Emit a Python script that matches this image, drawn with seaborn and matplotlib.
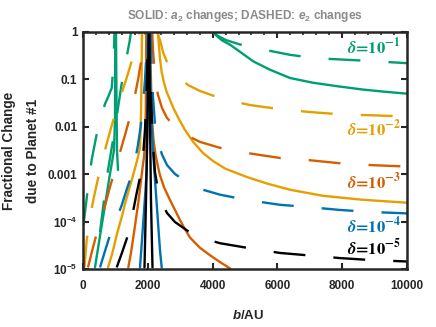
import pandas as pd
import matplotlib
matplotlib.use('Agg')
import matplotlib.pyplot as plt
import seaborn as sns
from matplotlib.ticker import FixedLocator, MultipleLocator, NullLocator

# values: b in AU, fractional change
# delta = 1e-1 (green)
g_a2_left_b = [370, 525, 679, 802, 895, 957, 988, 997]
g_a2_left_y = [1.08e-5, 5.0e-5, 2.2e-4, 7.6e-4, 1.8e-3, 3.2e-3, 0.0139, 1.0]
g_a2_mid_b = [1018, 1034, 1049, 1080]
g_a2_mid_y = [1.0, 0.037, 0.0032, 0.00123]
g_a2_right_b = [4000, 4150, 4300, 4537, 4900, 5256, 5772, 6389, 7099, 7900, 8642, 9300, 10000]
g_a2_right_y = [1.0, 0.8, 0.66, 0.54, 0.36, 0.24, 0.16, 0.107, 0.085, 0.071, 0.061, 0.055, 0.050]
g_e2_left1_b = [15, 114, 185, 268, 370, 463, 571, 679, 787, 886, 941, 972]
g_e2_left1_y = [8.5e-5, 3.1e-4, 8.4e-4, 2.0e-3, 4.6e-3, 9.4e-3, 0.0177, 0.0304, 0.0445, 0.066, 0.2, 1.0]
g_e2_left2_b = [525, 648, 772, 886, 988, 1080, 1173, 1265, 1358, 1435, 1481]
g_e2_left2_y = [6.0e-5, 2.86e-4, 1.23e-3, 3.6e-3, 9.4e-3, 0.0249, 0.066, 0.158, 0.327, 0.615, 1.0]
g_e2_right_b = [4012, 4150, 4400, 4650, 4907, 5300, 5772, 6389, 7000, 7623, 8611, 10000]
g_e2_right_y = [1.0, 0.84, 0.68, 0.6, 0.53, 0.46, 0.40, 0.33, 0.29, 0.27, 0.25, 0.22]

# delta = 1e-2 (orange)
o_a2_left_b = [772, 895, 1049, 1194, 1327, 1450, 1574, 1666, 1759, 1790, 1808, 1821]
o_a2_left_y = [1.08e-5, 2.04e-5, 5.5e-5, 1.24e-4, 2.86e-4, 5.6e-4, 1.12e-3, 1.9e-3, 3.6e-3, 0.0177, 0.124, 1.0]
o_a2_right_b = [2315, 2345, 2380, 2430, 2500, 2580, 2685, 2800, 2950, 3148, 3400, 3704,
                4012, 4400, 5062, 5700, 6389, 7407, 8600, 10000]
o_a2_right_y = [1.0, 0.5, 0.26, 0.14, 0.085, 0.055, 0.037, 0.024, 0.015, 0.0086, 0.0048, 0.0028,
                0.0019, 0.0013, 0.00087, 0.00063, 0.00047, 0.00035, 0.00029, 0.00025]
o_e2_left_b = [46, 114, 216, 318, 432, 577, 710, 864, 1018, 1173, 1327, 1450, 1574, 1666, 1744]
o_e2_left_y = [1.08e-5, 4.1e-5, 1.2e-4, 2.86e-4, 6.5e-4, 1.73e-3, 3.9e-3, 9.4e-3, 0.0216,
               0.047, 0.097, 0.183, 0.36, 0.615, 1.0]
o_e2_right_b = [2284, 2376, 2469, 2592, 2685, 2839, 3241, 3611, 4290, 5154, 6142, 7006, 7994, 8920, 10000]
o_e2_right_y = [1.0, 0.68, 0.378, 0.233, 0.192, 0.130, 0.076, 0.057, 0.039, 0.0288, 0.0232,
                0.0205, 0.0182, 0.0175, 0.0165]

# delta = 1e-3 (dark orange)
d_a2_left_b = [1398, 1481, 1574, 1651, 1707, 1774, 1836, 1882, 1913, 1938, 1953]
d_a2_left_y = [1.08e-5, 2.2e-5, 5.8e-5, 1.37e-4, 2.5e-4, 5.9e-4, 1.35e-3, 2.3e-3, 4.1e-3, 0.0226, 1.0]
d_a2_right_b = [2068, 2083, 2105, 2130, 2176, 2237, 2315, 2376, 2500, 2685, 2839, 2994, 3148,
                3302, 3611, 3920, 4228, 4537]
d_a2_right_y = [1.0, 0.257, 0.060, 0.0139, 0.0053, 0.0026, 0.00143, 0.00095, 0.00053, 0.000286,
                0.000176, 0.000108, 6.9e-5, 4.6e-5, 2.8e-5, 1.95e-5, 1.4e-5, 1.03e-5]
d_e2_left_b = [154, 247, 370, 463, 577, 710, 833, 988, 1142, 1296, 1450, 1574, 1697, 1790, 1867, 1929]
d_e2_left_y = [1.08e-5, 1.95e-5, 4.1e-5, 7.0e-5, 1.2e-4, 2.6e-4, 5.4e-4, 1.23e-3, 2.9e-3, 6.7e-3,
               0.0161, 0.037, 0.097, 0.233, 0.532, 1.0]
d_e2_right_b = [2136, 2160, 2222, 2315, 2438, 2592, 2839, 3241, 3611, 4228, 5061, 6080, 6913,
                7931, 8857, 10000]
d_e2_right_y = [1.0, 0.417, 0.112, 0.047, 0.025, 0.0154, 0.0099, 0.0064, 0.0048, 0.0036, 0.0028,
                0.0022, 0.0020, 0.0017, 0.00156, 0.00145]

# delta = 1e-4 (blue)
u_a2_left_b = [1759, 1821, 1882, 1929, 1966, 1984, 2000]
u_a2_left_y = [1.08e-5, 4.1e-5, 1.6e-4, 4.7e-4, 1.23e-3, 0.0139, 1.0]
u_a2_right_b = [2052, 2083, 2130, 2160, 2222, 2299, 2376, 2429]
u_a2_right_y = [1.0, 0.060, 0.0086, 0.0032, 7.6e-4, 1.37e-4, 2.5e-5, 1.08e-5]
u_e2_left_b = [525, 679, 833, 1018, 1194, 1327, 1450, 1574, 1682, 1774, 1851, 1913, 1959, 1990]
u_e2_left_y = [1.08e-5, 2.4e-5, 5.2e-5, 1.08e-4, 2.2e-4, 4.3e-4, 7.6e-4, 1.56e-3, 3.6e-3,
               9.4e-3, 0.029, 0.097, 0.327, 1.0]
u_e2_right_b = [2083, 2114, 2160, 2222, 2315, 2438, 2592, 2839, 3241, 3611, 4228, 5061, 6080,
                6913, 7931, 8857, 10000]
u_e2_right_y = [1.0, 0.233, 0.0425, 0.0115, 0.0048, 0.0026, 0.00156, 0.00101, 0.00065, 0.00049,
                0.00037, 0.000286, 0.000226, 0.000204, 0.000176, 0.00016, 0.000149]

# delta = 1e-5 (black)
k_a2_left_b = [1898, 1944, 1981, 2012, 2027]
k_a2_left_y = [1.08e-5, 2.86e-4, 5.3e-3, 0.097, 1.0]
k_a2_right_b = [2043, 2068, 2098, 2145]
k_a2_right_y = [1.0, 0.0139, 2.86e-4, 1.08e-5]
k_e2_left_b = [1040, 1203, 1389, 1543, 1657, 1744, 1811, 1867, 1913, 1950, 1981, 2006]
k_e2_left_y = [1.08e-5, 2.2e-5, 5.2e-5, 1.6e-4, 4.0e-4, 7.6e-4, 1.4e-3, 3.2e-3, 8.6e-3,
               0.029, 0.158, 1.0]
k_e2_right_b = [2037, 2068, 2114, 2160, 2222, 2315, 2438, 2592, 2839, 3241, 3611, 4228, 5061,
                6080, 6913, 7931, 8857, 10000]
k_e2_right_y = [1.0, 0.158, 0.0226, 0.0041, 0.0011, 0.00047, 0.00025, 0.000152, 9.8e-5, 6.3e-5,
                4.6e-5, 3.5e-5, 2.8e-5, 2.18e-5, 1.95e-5, 1.7e-5, 1.55e-5, 1.44e-5]

deltas = ['1e-1', '1e-2', '1e-3', '1e-4', '1e-5']
colors = ['#009E73', '#E69F00', '#D55E00', '#0072B2', '#000000']
label_text = [r'$\delta$=10$^{-1}$', r'$\delta$=10$^{-2}$', r'$\delta$=10$^{-3}$',
              r'$\delta$=10$^{-4}$', r'$\delta$=10$^{-5}$']
label_y = [0.48, 0.0090, 0.00069, 8.1e-5, 2.8e-5]

curves = [
    ('1e-1', 'a2', g_a2_left_b, g_a2_left_y), ('1e-1', 'a2', g_a2_mid_b, g_a2_mid_y),
    ('1e-1', 'a2', g_a2_right_b, g_a2_right_y), ('1e-1', 'e2', g_e2_left1_b, g_e2_left1_y),
    ('1e-1', 'e2', g_e2_left2_b, g_e2_left2_y), ('1e-1', 'e2', g_e2_right_b, g_e2_right_y),
    ('1e-2', 'a2', o_a2_left_b, o_a2_left_y), ('1e-2', 'a2', o_a2_right_b, o_a2_right_y),
    ('1e-2', 'e2', o_e2_left_b, o_e2_left_y), ('1e-2', 'e2', o_e2_right_b, o_e2_right_y),
    ('1e-3', 'a2', d_a2_left_b, d_a2_left_y), ('1e-3', 'a2', d_a2_right_b, d_a2_right_y),
    ('1e-3', 'e2', d_e2_left_b, d_e2_left_y), ('1e-3', 'e2', d_e2_right_b, d_e2_right_y),
    ('1e-4', 'a2', u_a2_left_b, u_a2_left_y), ('1e-4', 'a2', u_a2_right_b, u_a2_right_y),
    ('1e-4', 'e2', u_e2_left_b, u_e2_left_y), ('1e-4', 'e2', u_e2_right_b, u_e2_right_y),
    ('1e-5', 'a2', k_a2_left_b, k_a2_left_y), ('1e-5', 'a2', k_a2_right_b, k_a2_right_y),
    ('1e-5', 'e2', k_e2_left_b, k_e2_left_y), ('1e-5', 'e2', k_e2_right_b, k_e2_right_y),
]

rows = []
for i, (d, kind, bb, yy) in enumerate(curves):
    for b, y in zip(bb, yy):
        rows.append({'branch': i, 'delta': d, 'kind': kind, 'b': b, 'frac': y})
df = pd.DataFrame(rows)

sns.set_style('ticks')
plt.rcParams['font.family'] = ['Liberation Sans', 'DejaVu Sans']
plt.rcParams['font.weight'] = 'bold'
plt.rcParams['mathtext.fontset'] = 'custom'
plt.rcParams['mathtext.rm'] = 'Liberation Sans:bold'
plt.rcParams['mathtext.it'] = 'Liberation Sans:italic:bold'
plt.rcParams['mathtext.bf'] = 'Liberation Sans:bold'

fig = plt.figure(figsize=(4.36, 3.27), dpi=100)
ax = fig.add_axes([83/436, 58/327, 324/436, 237/327])
ax.set_yscale('log')

sns.lineplot(data=df, x='b', y='frac', hue='delta', hue_order=deltas,
             palette=dict(zip(deltas, colors)), style='kind', style_order=['a2', 'e2'],
             dashes={'a2': '', 'e2': (13.5, 11.9)}, units='branch', estimator=None,
             sort=False, lw=1.7, legend=False, ax=ax)

ax.set_xlim(0, 10000)
ax.set_ylim(1e-5, 1)

for txt, y, c in zip(label_text, label_y, colors):
    ax.text(8970, y, txt, color=c, fontsize=12, ha='center', va='center',
            math_fontfamily='stix', family='STIXGeneral', fontweight='bold')

ax.xaxis.set_major_locator(MultipleLocator(2000))
ax.xaxis.set_minor_locator(MultipleLocator(400))
ax.yaxis.set_major_locator(FixedLocator([1e-5, 1e-4, 1e-3, 1e-2, 0.1, 1]))
ax.yaxis.set_minor_locator(NullLocator())
ax.set_yticklabels([r'10$^{-5}$', r'10$^{-4}$', '0.001', '0.01', '0.1', '1'])
ax.tick_params(which='major', direction='in', length=4, width=1.5, top=True, right=True,
               labelsize=8.5)
ax.tick_params(which='minor', direction='in', length=2.5, width=1.2, top=True, bottom=False)
ax.tick_params(axis='x', pad=8)
ax.tick_params(axis='y', pad=4)
for s in ax.spines.values():
    s.set_linewidth(1.8)

ax.set_title(r'SOLID: $a_2$ changes; DASHED: $e_2$ changes', color='#8a8a8a',
             fontsize=8.6, fontweight='bold', pad=9)
ax.set_xlabel(r'$b$/AU', fontsize=9.5, fontweight='bold')
ax.xaxis.set_label_coords(0.51, -0.17)
ax.set_ylabel('Fractional Change\ndue to Planet #1', fontsize=9.8, fontweight='bold',
              linespacing=1.9)
ax.yaxis.set_label_coords(-0.133, 0.5)

fig.savefig('out.png', dpi=100)
